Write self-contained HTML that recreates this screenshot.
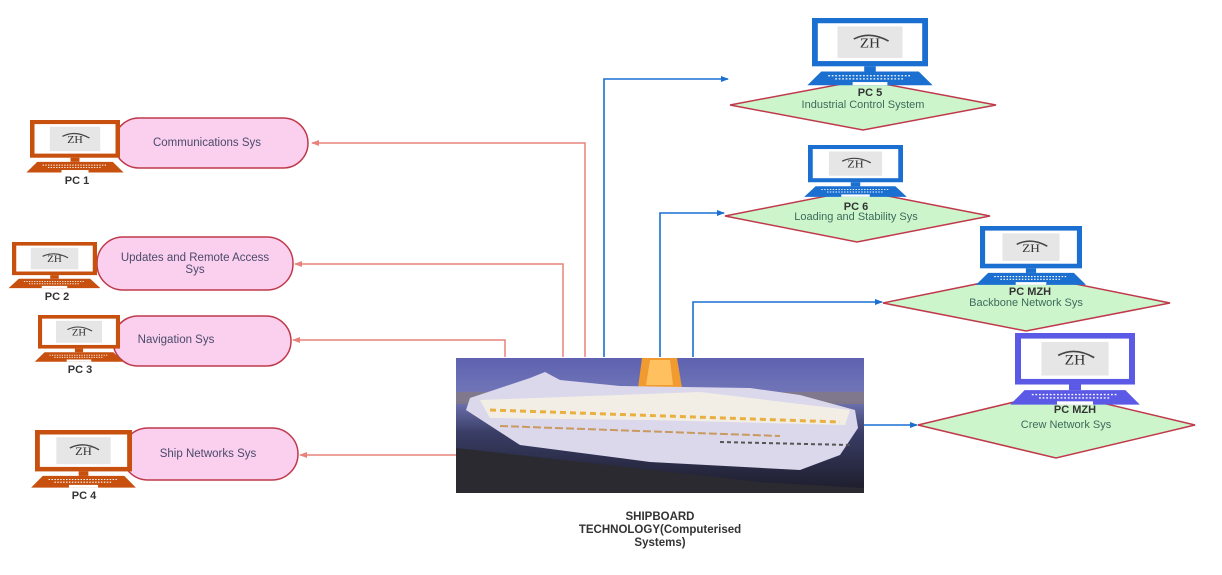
<!DOCTYPE html>
<html><head><meta charset="utf-8"><style>
html,body{margin:0;padding:0;background:#fff;}
svg{display:block;font-family:"Liberation Sans",sans-serif;}
</style></head><body>
<svg width="1222" height="575" viewBox="0 0 1222 575" xmlns="http://www.w3.org/2000/svg">
<defs>
<marker id="ar" markerWidth="8" markerHeight="8" refX="7" refY="4" orient="auto" markerUnits="userSpaceOnUse"><path d="M0,1 L8,4 L0,7 Z" fill="#e8837c"/></marker>
<marker id="ab" markerWidth="8" markerHeight="8" refX="7" refY="4" orient="auto" markerUnits="userSpaceOnUse"><path d="M0,1 L8,4 L0,7 Z" fill="#1a6fd0"/></marker>
<g id="lap">
<rect x="0" y="0" width="100" height="46" fill="currentColor"/>
<rect x="5" y="5" width="90" height="36" fill="#fff"/>
<rect x="22" y="8" width="56" height="30" fill="#e6e6e6"/>
<text x="50" y="28" font-size="13" text-anchor="middle" fill="#333" font-family="Liberation Serif,serif">ZH</text>
<path d="M36,20 Q50,12 66,22" stroke="#444" stroke-width="1.5" fill="none"/>
<rect x="45" y="46" width="10" height="5" fill="currentColor"/>
<path d="M8,51 L92,51 L104,64 L-4,64 Z" fill="currentColor"/>
<line x1="14" y1="55" x2="86" y2="55" stroke="#fff" stroke-width="1.2" stroke-dasharray="1.5 1.5"/>
<line x1="20" y1="58" x2="80" y2="58" stroke="#fff" stroke-width="1.2" stroke-dasharray="1.5 1.5"/>
<rect x="35" y="61" width="30" height="3" fill="#fff"/>
</g>
<linearGradient id="sky" x1="0" y1="0" x2="0" y2="1">
<stop offset="0" stop-color="#5e62b0"/><stop offset="0.3" stop-color="#7478b8"/><stop offset="0.55" stop-color="#3a3e66"/><stop offset="1" stop-color="#1c1c2a"/>
</linearGradient>
</defs>

<g stroke="#e8837c" stroke-width="1.5" fill="none">
<path d="M585,357 V143 H312" marker-end="url(#ar)"/>
<path d="M563,357 V264 H295" marker-end="url(#ar)"/>
<path d="M505,357 V340 H293" marker-end="url(#ar)"/>
<path d="M457,455 H300" marker-end="url(#ar)"/>
</g>
<g stroke="#1a6fd0" stroke-width="1.6" fill="none">
<path d="M604,357 V79 H728" marker-end="url(#ab)"/>
<path d="M660,357 V213 H724" marker-end="url(#ab)"/>
<path d="M693,357 V302 H882" marker-end="url(#ab)"/>
<path d="M864,425 H917" marker-end="url(#ab)"/>
</g>

<g fill="#fbd0ef" stroke="#c0394b" stroke-width="1.5">
<rect x="114" y="118" width="194" height="50" rx="25"/>
<rect x="97" y="237" width="196" height="53" rx="26"/>
<rect x="113" y="316" width="178" height="50" rx="25"/>
<rect x="122" y="428" width="176" height="52" rx="26"/>
</g>
<g font-size="11.5" fill="#4a4a6a" text-anchor="middle">
<text x="207" y="146">Communications Sys</text>
<text x="195" y="261">Updates and Remote Access</text>
<text x="195" y="273">Sys</text>
<text x="176" y="343">Navigation Sys</text>
<text x="208" y="457">Ship Networks Sys</text>
</g>

<g color="#c8500e">
<use href="#lap" transform="translate(30,120) scale(0.9,0.82)"/>
<use href="#lap" transform="translate(12,242) scale(0.85,0.72)"/>
<use href="#lap" transform="translate(38,315) scale(0.82,0.73)"/>
<use href="#lap" transform="translate(35,430) scale(0.97,0.9)"/>
</g>
<g font-size="11" font-weight="bold" fill="#333" text-anchor="middle">
<text x="77" y="184">PC 1</text>
<text x="57" y="300">PC 2</text>
<text x="80" y="373">PC 3</text>
<text x="84" y="499">PC 4</text>
</g>

<g fill="#ccf5cc" stroke="#c0394b" stroke-width="1.5">
<polygon points="730,105 863,80 996,105 863,130"/>
<polygon points="725,216 857,190 990,216 857,242"/>
<polygon points="883,303 1026,274 1170,303 1026,331"/>
<polygon points="918,425 1056,392 1195,425 1056,458"/>
</g>
<g color="#1a6fd0">
<use href="#lap" transform="translate(812,18) scale(1.16,1.05)"/>
<use href="#lap" transform="translate(808,145) scale(0.95,0.81)"/>
<use href="#lap" transform="translate(980,226) scale(1.02,0.92)"/>
</g>
<g color="#5a5ae6">
<use href="#lap" transform="translate(1015,333) scale(1.2,1.12)"/>
</g>
<g font-size="11" font-weight="bold" fill="#333" text-anchor="middle">
<text x="870" y="96">PC 5</text>
<text x="856" y="210">PC 6</text>
<text x="1030" y="295">PC MZH</text>
<text x="1075" y="413">PC MZH</text>
</g>
<g font-size="11" fill="#3f6a5a" text-anchor="middle">
<text x="863" y="108">Industrial Control System</text>
<text x="856" y="220">Loading and Stability Sys</text>
<text x="1026" y="306">Backbone Network Sys</text>
<text x="1066" y="428">Crew Network Sys</text>
</g>

<g>
<rect x="456" y="358" width="408" height="135" fill="url(#sky)"/>
<rect x="456" y="392" width="408" height="12" fill="#8a7a70" opacity="0.6"/>
<polygon points="642,358 677,358 682,388 638,388" fill="#f09a30"/>
<polygon points="650,360 670,360 673,385 646,385" fill="#ffc060"/>
<polygon points="530,378 545,372 560,380 620,386 750,388 800,395 855,410 858,428 840,455 800,470 650,462 520,445 466,410 470,398" fill="#dcd8ec"/>
<polygon points="480,400 700,392 850,410 845,425 650,420 490,418" fill="#f2eee6"/>
<line x1="490" y1="410" x2="840" y2="422" stroke="#e8b040" stroke-width="3" stroke-dasharray="6 4"/>
<line x1="500" y1="426" x2="780" y2="436" stroke="#c89a60" stroke-width="2" stroke-dasharray="8 3"/>
<line x1="720" y1="442" x2="850" y2="445" stroke="#555" stroke-width="2" stroke-dasharray="4 3"/>
<polygon points="456,448 760,482 864,488 864,493 456,493" fill="#2a2a30"/>
</g>
<g font-size="11.5" font-weight="bold" fill="#333" text-anchor="middle">
<text x="660" y="520">SHIPBOARD</text>
<text x="660" y="533">TECHNOLOGY(Computerised</text>
<text x="660" y="546">Systems)</text>
</g>
</svg>
</body></html>
